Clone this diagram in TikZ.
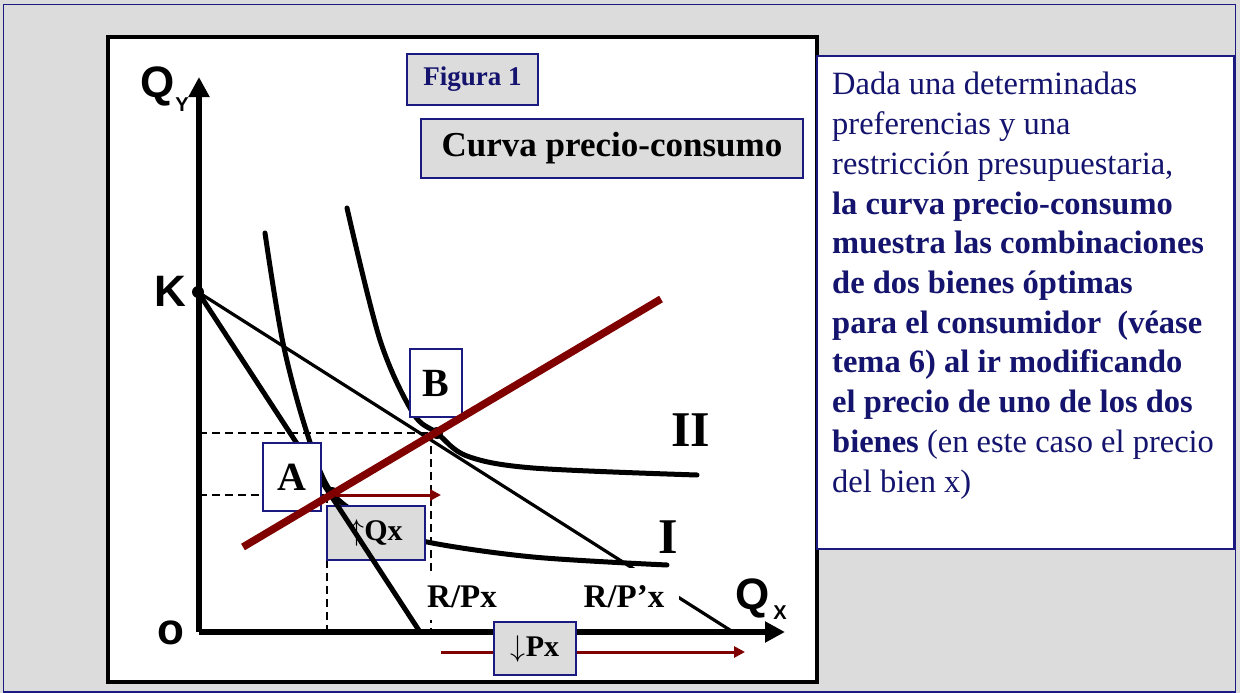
\RequirePackage{fix-cm}
\documentclass[tikz,border=0pt]{standalone}
\usepackage{fontspec}
\setmainfont{Liberation Serif}
\newfontfamily\axisfont{Liberation Sans}
\usetikzlibrary{arrows.meta}
\definecolor{bg}{HTML}{DCDCDC}
\definecolor{navyb}{HTML}{1A1A80}
\definecolor{navyt}{HTML}{14146E}
\definecolor{dred}{HTML}{800000}
\tikzset{
  axis/.style={line width=6pt, -{Triangle[length=20pt,width=20pt]}},
  axlbl/.style={font=\axisfont\bfseries\fontsize{44}{44}\selectfont, inner sep=0},
  sublbl/.style={font=\axisfont\bfseries\fontsize{20}{20}\selectfont, inner sep=0},
  graybox/.style={draw=navyb, line width=1.3pt, fill=bg, inner sep=0},
  whitebox/.style={draw=navyb, line width=1.3pt, fill=white, inner sep=0},
  whitepatch/.style={fill=white, inner sep=0},
  indiff/.style={line width=5pt, line cap=round},
  dashln/.style={line width=2.5pt, dash pattern=on 8pt off 5pt},
  redarrow/.style={dred, line width=3pt, -{Triangle[length=11pt,width=11pt]}},
  txt/.style={anchor=base west, inner sep=0, text=navyt, font=\fontsize{32.5}{40}\selectfont},
  dotpt/.style={circle, fill=black, inner sep=0, minimum size=12pt}
}
\begin{document}
\begin{tikzpicture}[x=1pt,y=-1pt]
\useasboundingbox (0,0) rectangle (1240,693);
% background and frames
\fill[bg] (0,0) rectangle (1240,693);
\draw[navyb, line width=1.5pt] (3.5,4.5) rectangle (1235.5,692);
\draw[black, line width=3.5pt, fill=white] (108,37) rectangle (817,682);
\draw[navyb, line width=1.5pt, fill=white] (817,56) rectangle (1234,549);

% coordinates
\coordinate (orig) at (199,632);
\coordinate (ytip) at (199,77);
\coordinate (xtip) at (785,632);
\coordinate (K) at (198,292);
\coordinate (Rp) at (420,632);
\coordinate (Rpp) at (733,632);
\coordinate (A) at (332,493);
\coordinate (B) at (437,433);
\coordinate (yB) at (199,433);
\coordinate (yA) at (199,495);
\coordinate (xB1) at (431,433);
\coordinate (xB) at (431,632);
\coordinate (xA1) at (327,495);
\coordinate (xA) at (327,632);
\coordinate (pc1) at (243,547);
\coordinate (pc2) at (661,299);
\coordinate (qa1) at (336,495);
\coordinate (qa2) at (441,495);
\coordinate (pa1) at (441,652);
\coordinate (pa2) at (745,652);

% axes
\draw[axis] (orig) -- (ytip);
\draw[axis] (orig) -- (xtip);
\node[axlbl] (Qy) at (158,86) {Q};
\node[sublbl] (Qys) at (182,105) {Y};
\node[axlbl] (Qx) at (753,598) {Q};
\node[sublbl] (Qxs) at (780,613) {X};
\node[axlbl] (Klbl) at (170,291) {K};
\node[axlbl] (Olbl) at (171,633) {o};

% dashed guides
\draw[dashln] (yB) -- (xB1);
\draw[dashln] (xB1) -- (xB);
\draw[dashln] (yA) -- (xA1);
\draw[dashln] (xA1) -- (xA);

% budget line (flat) and indifference curves
\draw[line width=3.2pt] (K) -- (Rpp);
\draw[indiff] plot[smooth, tension=0.55] coordinates {(265,233) (283,343) (307,433) (332,493) (380,526) (427,542) (533,557) (667,565)};
\draw[indiff] plot[smooth, tension=0.55] coordinates {(347,208) (380,340) (413,413) (437,433) (467,456) (533,468) (697,475)};

% intercept labels
\node[whitepatch, minimum width=154pt, minimum height=52pt] (Rppl) at (602,594) {};
\node[inner sep=0, font=\bfseries\fontsize{33}{33}\selectfont] (Rpptxt) at (624,597) {R/P’x};
\node[whitepatch, minimum width=103pt, minimum height=47pt] (Rpl) at (464.5,596.5) {};
\node[inner sep=0, font=\bfseries\fontsize{33}{33}\selectfont] (Rptxt) at (462,597) {R/Px};

% increase in Qx box, then steep budget line
\node[graybox, minimum width=98pt, minimum height=54pt, font=\fontsize{30}{30}\selectfont] (upQ) at (376,533) {$\uparrow$\textbf{Qx}};
\draw[line width=5pt] (K) -- (Rp);

% curve labels
\node[inner sep=0, font=\bfseries\fontsize{50}{50}\selectfont] (II) at (691,430) {II};
\node[inner sep=0, font=\bfseries\fontsize{50}{50}\selectfont] (I) at (668,537) {I};

% point labels
\node[whitebox, minimum width=52pt, minimum height=68pt, font=\bfseries\fontsize{40}{40}\selectfont] (Bl) at (436,383) {B};
\node[whitebox, minimum width=58pt, minimum height=68pt, font=\bfseries\fontsize{40}{40}\selectfont] (Al) at (292,477) {A};

% dots
\node[dotpt] (Kd) at (K) {};
\node[dotpt] (Ad) at (A) {};
\node[dotpt] (Bd) at (B) {};

% price-consumption curve
\draw[dred, line width=7.5pt] (pc1) -- (pc2);
\draw[redarrow] (qa1) -- (qa2);
\draw[redarrow] (pa1) -- (pa2);
\node[graybox, minimum width=82pt, minimum height=53pt, font=\fontsize{30}{30}\selectfont] (downP) at (535,648.5) {$\downarrow$\textbf{Px}};

% titles
\node[graybox, minimum width=131pt, minimum height=51pt, text=navyt, font=\bfseries\fontsize{27}{27}\selectfont] (fig) at (472.5,79.5) {Figura 1};
\node[graybox, minimum width=382pt, minimum height=59pt, font=\bfseries\fontsize{35}{35}\selectfont] (title) at (612,148.5) {Curva precio-consumo};

% explanatory text
\foreach \t [count=\i from 0] in {
  {Dada una determinadas},
  {preferencias y una},
  {restricción presupuestaria,},
  {\textbf{la curva precio-consumo}},
  {\textbf{muestra las combinaciones}},
  {\textbf{de dos bienes óptimas}},
  {\textbf{para el consumidor~ (véase}},
  {\textbf{tema 6) al ir modificando}},
  {\textbf{el precio de uno de los dos}},
  {\textbf{bienes} (en este caso el precio},
  {del bien x)}}
  \node[txt] (line\i) at (832,{95+39.7*\i}) {\t};
\end{tikzpicture}
\end{document}
